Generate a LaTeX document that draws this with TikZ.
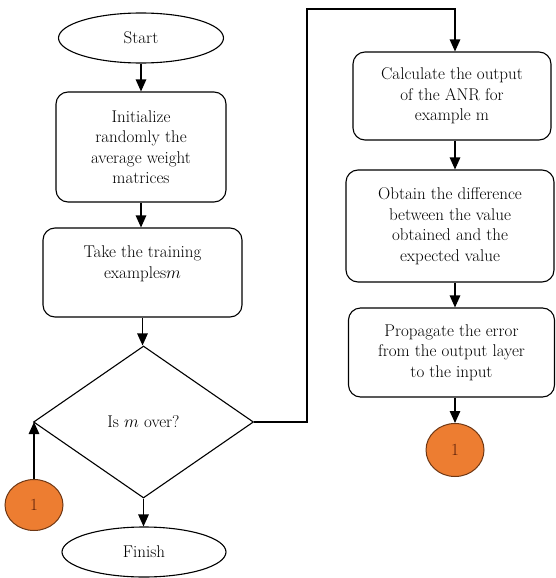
\documentclass[tikz,border=0pt]{standalone}
\usetikzlibrary{shapes.geometric,arrows.meta}
\definecolor{orfill}{RGB}{237,125,49}
\definecolor{ordraw}{RGB}{110,55,20}
\definecolor{ortext}{RGB}{90,30,10}
\begin{document}
\begin{tikzpicture}[x=1pt,y=1pt,
  every node/.style={font=\fontsize{17}{20.5}\selectfont, align=center},
  term/.style={ellipse, draw, line width=1.1pt, inner sep=0pt},
  procbox/.style={rectangle, rounded corners=12pt, draw, line width=1.1pt, inner sep=0pt},
  decis/.style={diamond, draw, line width=1.1pt, inner sep=0pt},
  conn/.style={ellipse, draw=ordraw, fill=orfill, line width=1pt, inner sep=0pt,
    minimum width=58pt, minimum height=51pt, text=ortext},
  arr/.style={line width=1.3pt, -{Triangle[length=12pt,width=10.5pt]}}]
\useasboundingbox (0,0) rectangle (555,-578);
% left column
\node[term, minimum width=165pt, minimum height=50pt] (start) at (141,-38) {Start};
\node[procbox, minimum width=170pt, minimum height=110pt] (init) at (141,-147)
  {Initialize\\randomly the\\average weight\\matrices};
\node[procbox, minimum width=199pt, minimum height=89pt] (take) at (142.5,-272.5)
  {Take the training\\examples$m$\\\mbox{}};
\node[decis, minimum width=220pt, minimum height=152pt] (dec) at (143.5,-422) {Is $m$ over?};
\node[term, minimum width=164pt, minimum height=50pt] (finish) at (144,-552) {Finish};
\node[conn] (c1) at (34,-505) {1};
% right column
\node[procbox, minimum width=198pt, minimum height=88pt] (b1) at (452,-96)
  {Calculate the output\\of the ANR for\\example m};
\node[procbox, minimum width=208pt, minimum height=112pt] (b2) at (450,-226)
  {Obtain the difference\\between the value\\obtained and the\\expected value};
\node[procbox, minimum width=206pt, minimum height=89pt] (b3) at (451.5,-352.5)
  {Propagate the error\\from the output layer\\to the input};
\node[conn, minimum height=53pt] (c2) at (455,-450) {1};
\coordinate (looptop) at (307,-9);
% connectors
\draw[arr] (start.south) -- (start.south |- init.north);
\draw[arr] (init.south) -- (init.south |- take.north);
\draw[arr] (take.south) -- (take.south |- dec.north);
\draw[arr] (dec.south) -- (dec.south |- finish.north);
\draw[arr] (c1.north) -- (c1.north |- dec.west);
\draw[arr] (dec.east) -| (looptop) -| (c2.north |- b1.north);
\draw[arr] (b1.south -| c2.north) -- (b2.north -| c2.north);
\draw[arr] (b2.south -| c2.north) -- (b3.north -| c2.north);
\draw[arr] (b3.south -| c2.north) -- (c2.north);
\end{tikzpicture}
\end{document}
